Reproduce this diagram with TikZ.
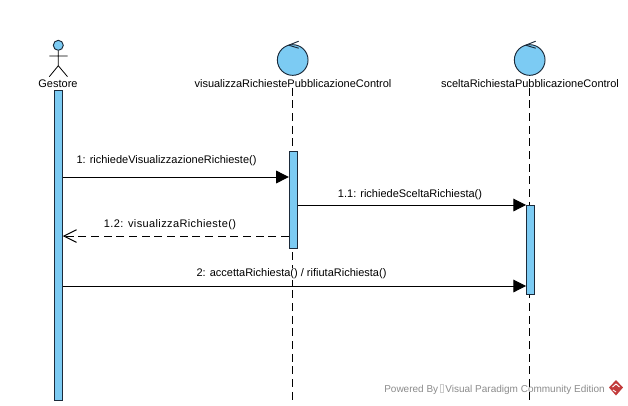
\documentclass[tikz,border=0pt]{standalone}
\usepackage{fontspec}
\setmainfont{Liberation Sans}
\usetikzlibrary{calc,arrows.meta,positioning}
\definecolor{lifeblue}{HTML}{7CCBF3}
\definecolor{ink}{HTML}{1B2A3A}
\definecolor{vpgray}{HTML}{8C8C8C}
\definecolor{vpred}{HTML}{C23B3B}
\tikzset{
lblbox/.style={inner sep=0pt,font=\fontsize{8.25}{10}\selectfont},
barbox/.style={draw=ink,fill=lifeblue,line width=.7pt,minimum width=6pt,minimum height=#1*.75pt,inner sep=0pt,anchor=north},
ctrlcirc/.style={circle,draw=ink,fill=lifeblue,line width=.7pt,minimum size=23pt,inner sep=0pt},
lifeline/.style={black,line width=.75pt,dash pattern=on 6pt off 3.5pt},
msgline/.style={-{Triangle[length=9.5pt,width=9.5pt]},black,line width=.75pt},
msgback/.style={-{Straight Barb[length=9.5pt,width=9.5pt]},black,line width=.75pt,dash pattern=on 6pt off 3.5pt}
}
\newcommand{\ctrlhook}[1]{\draw[ink,line width=.7pt] ($(#1.north)+(6,-3)$)--($(#1.north)+(-4,1)$)--($(#1.north)+(6,4)$);}
\begin{document}
\begin{tikzpicture}[x=.75pt,y=-.75pt]
\useasboundingbox (0,0) rectangle (628,405);
\fill[white] (0,0) rectangle (628,405);
\coordinate (endV) at (292.4,400);\coordinate (endS) at (529.4,400);
\node[circle,draw=ink,fill=lifeblue,line width=.7pt,minimum size=7.5pt,inner sep=0pt] (headG) at (58.3,45.3){};
\coordinate (hipG) at (58.3,65.7);\coordinate (armL) at (49.3,56);\coordinate (armR) at (67.7,56);\coordinate (footL) at (49.3,76.7);\coordinate (footR) at (67.5,76.7);
\draw[black,line width=.6pt] (headG.south)--(hipG) (armL)--(armR) (footL)--(hipG)--(footR);
\node[lblbox] (lblG) at (58,83.5){Gestore};
\node[ctrlcirc] (ctrlV) at (292.7,60){};\ctrlhook{ctrlV}
\node[ctrlcirc] (ctrlS) at (529.7,60){};\ctrlhook{ctrlS}
\node[lblbox] (lblV) at (293,83.5){visualizzaRichiestePubblicazioneControl};
\node[lblbox] (lblS) at (530,83.5){sceltaRichiestaPubblicazioneControl};
\draw[lifeline] (lblV.south -| endV)--(endV);
\draw[lifeline] (lblS.south -| endS)--(endS);
\node[barbox=310] (barG) at (58.3,90){};
\node[barbox=97] (barV) at (293.3,151){};
\node[barbox=89] (barS) at (530.5,205){};
\coordinate (m1) at (0,177);\coordinate (m2) at (0,205);\coordinate (m3) at (0,236);\coordinate (m4) at (0,286);
\draw[msgline] (barG.east |- m1)--(barV.west |- m1);
\draw[msgline] (barV.east |- m2)--(barS.west |- m2);
\draw[msgback] (barV.west |- m3)--(barG.east |- m3);
\draw[msgline] (barG.east |- m4)--(barS.west |- m4);
\node[lblbox] (lblM1) at (166.5,161){1: richiedeVisualizzazioneRichieste()};
\node[lblbox] (lblM2) at (410,195){1.1: richiedeSceltaRichiesta()};
\node[lblbox] (lblM3) at (170,224.5){\addfontfeature{LetterSpace=3.5}1.2: visualizzaRichieste()};
\node[lblbox,fill=white,inner ysep=1pt] (lblM4) at (291.5,274){2: accettaRichiesta() / rifiutaRichiesta()};
\node[lblbox,font=\fontsize{7.5}{10}\selectfont,text=vpgray,anchor=east] (lblVP) at (605,389){Powered By\,{\color{black!20}\fboxsep=0pt\fboxrule=.2pt\fbox{\rule{0pt}{6pt}\rule{2.5pt}{0pt}}}\,Visual Paradigm Community Edition};
\fill[vpred] (616,380)--(623,387.5)--(616,395.5)--(609,387.5)--cycle;
\draw[white,line width=.7pt] (612.5,387)--(616,384)--(619.5,387) (613,390)--(616,392);
\end{tikzpicture}
\end{document}
